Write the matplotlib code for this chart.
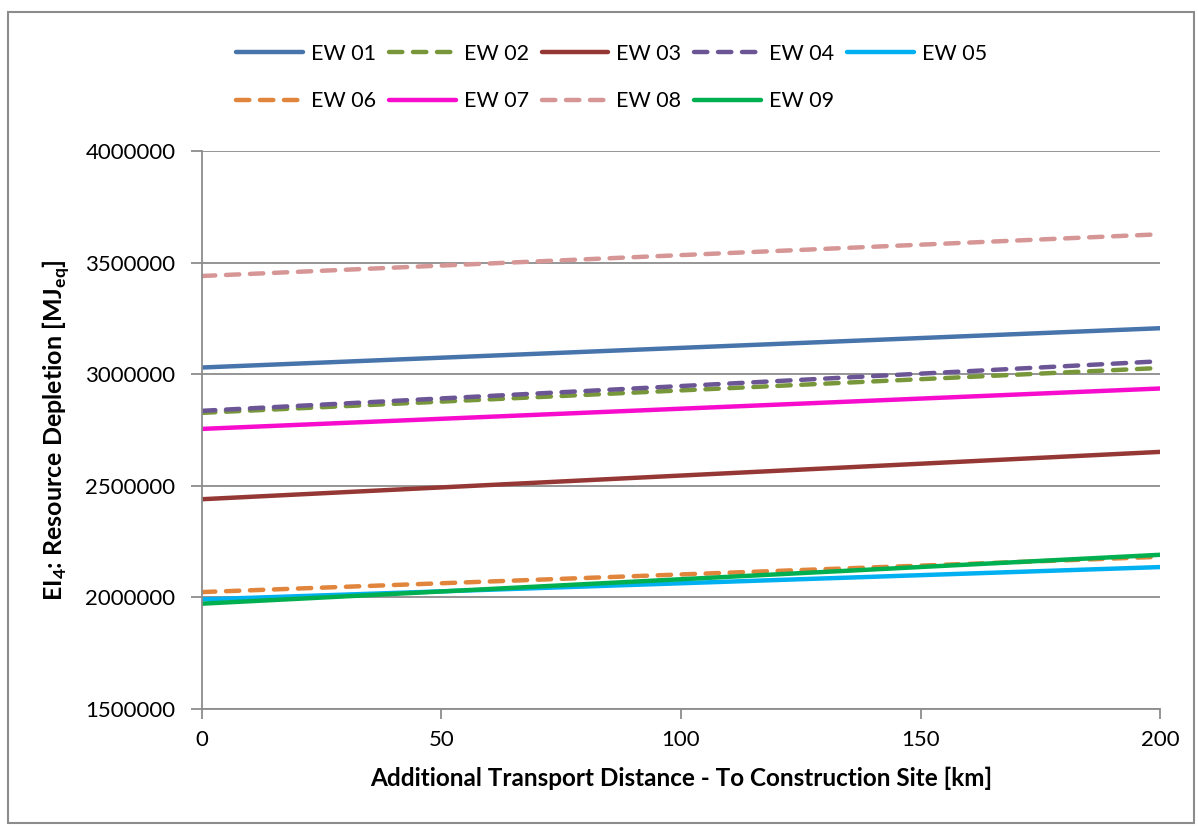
import matplotlib.pyplot as plt
from matplotlib.patches import Rectangle

plt.rcParams['font.family'] = ['Lato', 'DejaVu Sans']
plt.rcParams['mathtext.fontset'] = 'custom'
plt.rcParams['mathtext.rm'] = 'Lato'
plt.rcParams['mathtext.bf'] = 'Lato:bold'

# transport distance [km]
distance = [0, 200]

# resource depletion [MJ_eq] at 0 km and 200 km
ew01 = [3030000, 3206000]
ew02 = [2827000, 3028000]
ew03 = [2440000, 2652000]
ew04 = [2836000, 3058000]
ew05 = [1991000, 2136000]
ew06 = [2024000, 2182000]
ew07 = [2755000, 2936000]
ew08 = [3440000, 3627000]
ew09 = [1972000, 2191000]

series = [ew01, ew02, ew03, ew04, ew05, ew06, ew07, ew08, ew09]
labels = ['EW 01', 'EW 02', 'EW 03', 'EW 04', 'EW 05',
          'EW 06', 'EW 07', 'EW 08', 'EW 09']
colors = ['#4674AB', '#78973B', '#953835', '#6B5595', '#00B0F0',
          '#E0853B', '#F70CCE', '#D69695', '#00B050']
dashed = [False, True, False, True, False, True, False, True, False]

fig = plt.figure(figsize=(11.98, 8.26), dpi=100)
ax = fig.add_axes([0.1686, 0.1416, 0.7997, 0.6756])

for vals, lab, col, d in zip(series, labels, colors, dashed):
    line, = ax.plot(distance, vals, color=col, lw=3.2, label=lab,
                    solid_capstyle='round')
    if d:
        line.set_dashes((3.0, 2.4))
        line.set_dash_capstyle('round')

ax.set_xlim(0, 200)
ax.set_ylim(1500000, 4000000)
ax.set_xticks([0, 50, 100, 150, 200])
ax.set_yticks([1500000, 2000000, 2500000, 3000000, 3500000, 4000000])
ax.ticklabel_format(axis='y', style='plain', useOffset=False)
ax.grid(axis='y', color='#8C8C8C', lw=1.3)
ax.set_axisbelow(True)
for s in ['top', 'right']:
    ax.spines[s].set_visible(False)
for s in ['left', 'bottom']:
    ax.spines[s].set_color('#8C8C8C')
    ax.spines[s].set_linewidth(1.3)
ax.tick_params(axis='y', length=8, width=1.3, color='#8C8C8C', labelsize=16, pad=11)
ax.tick_params(axis='x', length=7, width=1.3, color='#8C8C8C', labelsize=16, pad=8)

ax.set_xlabel('Additional Transport Distance - To Construction Site [km]',
              fontsize=17.5, fontweight='bold', labelpad=12)
ax.set_ylabel(r'EI$_\mathbf{4}$: Resource Depletion [MJ$_\mathbf{eq}$]',
              fontsize=18, fontweight='bold', labelpad=10)

# reorder so rows read EW01..EW05 / EW06..EW09 with ncol=5
h, l = ax.get_legend_handles_labels()
order = [0, 5, 1, 6, 2, 7, 3, 8, 4]
ax.legend([h[i] for i in order], [l[i] for i in order], ncol=5,
          loc='upper left', bbox_to_anchor=(0.02, 1.219), frameon=False,
          fontsize=15.5, handlelength=3.1, handletextpad=0.37,
          columnspacing=0.6, labelspacing=1.27, borderpad=0.2)

fig.add_artist(Rectangle((8 / 1198, 3 / 826), 1186 / 1198, 811 / 826,
                         transform=fig.transFigure, fill=False,
                         edgecolor='#8C8C8C', lw=1.5))

fig.savefig('out.png', dpi=100)
